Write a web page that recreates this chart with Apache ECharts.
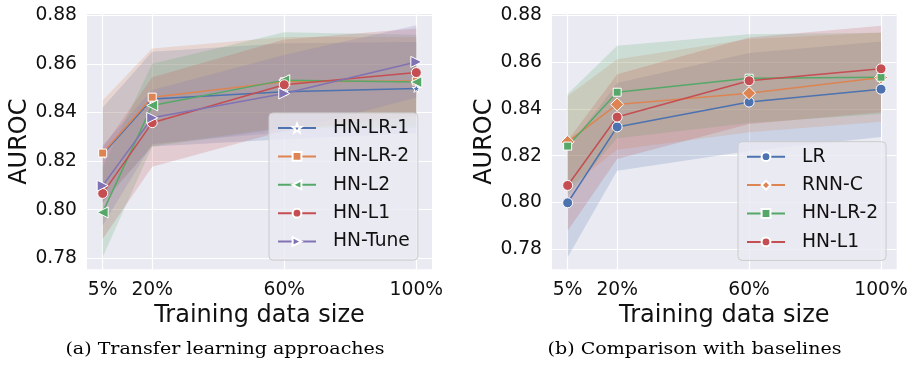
<!DOCTYPE html>
<html>
<head>
<meta charset="utf-8">
<script src="https://cdn.jsdelivr.net/npm/echarts@6/dist/echarts.min.js"></script>
<style>
html,body{margin:0;padding:0;background:#ffffff;}
#chart{width:916px;height:365px;}
</style>
</head>
<body>
<div id="chart"></div>
<script>
// ---------- data ----------
const trainingSizes = [5, 20, 60, 100];
const xTickLabels = ['5%', '20%', '60%', '100%'];
const yTickValues = [0.78, 0.80, 0.82, 0.84, 0.86, 0.88];

// (a) Transfer learning approaches
const aNames = ['HN-LR-1', 'HN-LR-2', 'HN-L2', 'HN-L1', 'HN-Tune'];
const aHNLR1Mean = [0.8228, 0.8455, 0.8485, 0.8499];
const aHNLR1Lo   = [0.8030, 0.8260, 0.8290, 0.8315];
const aHNLR1Hi   = [0.8420, 0.8650, 0.8685, 0.8690];
const aHNLR2Mean = [0.8233, 0.8463, 0.8526, 0.8529];
const aHNLR2Lo   = [0.8030, 0.8265, 0.8340, 0.8345];
const aHNLR2Hi   = [0.8450, 0.8663, 0.8710, 0.8710];
const aHNL2Mean  = [0.7989, 0.8429, 0.8533, 0.8525];
const aHNL2Lo    = [0.7805, 0.8260, 0.8335, 0.8335];
const aHNL2Hi    = [0.8175, 0.8600, 0.8730, 0.8720];
const aHNL1Mean  = [0.8067, 0.8358, 0.8514, 0.8564];
const aHNL1Lo    = [0.7880, 0.8177, 0.8325, 0.8385];
const aHNL1Hi    = [0.8255, 0.8545, 0.8700, 0.8745];
const aTuneMean  = [0.8099, 0.8378, 0.8478, 0.8608];
const aTuneLo    = [0.7935, 0.8270, 0.8320, 0.8462];
const aTuneHi    = [0.8265, 0.8492, 0.8636, 0.8759];

// (b) Comparison with baselines
const bNames = ['LR', 'RNN-C', 'HN-LR-2', 'HN-L1'];
const bLRMean   = [0.7999, 0.8323, 0.8429, 0.8484];
const bLRLo     = [0.7766, 0.8136, 0.8220, 0.8280];
const bLRHi     = [0.8230, 0.8510, 0.8638, 0.8688];
const bRNNMean  = [0.8259, 0.8419, 0.8467, 0.8534];
const bRNNLo    = [0.8060, 0.8225, 0.8300, 0.8345];
const bRNNHi    = [0.8455, 0.8612, 0.8698, 0.8726];
const bHNLR2Mean = [0.8241, 0.8471, 0.8531, 0.8535];
const bHNLR2Lo   = [0.8030, 0.8275, 0.8340, 0.8378];
const bHNLR2Hi   = [0.8463, 0.8669, 0.8719, 0.8725];
const bHNL1Mean = [0.8073, 0.8365, 0.8520, 0.8571];
const bHNL1Lo   = [0.7880, 0.8186, 0.8335, 0.8385];
const bHNL1Hi   = [0.8265, 0.8548, 0.8705, 0.8755];

// ---------- style ----------
const C = {blue:'#4C72B0', orange:'#DD8452', green:'#55A868', red:'#C44E52', purple:'#8172B3'};
const FONT = 'DejaVu Sans';
const TXT = '#111111';
const STAR = 'path://M0,-10L2.35,-3.24L9.51,-3.09L3.8,1.24L5.88,8.09L0,4L-5.88,8.09L-3.8,1.24L-9.51,-3.09L-2.35,-3.24Z';

function rgba(hex, a){
  const n = parseInt(hex.slice(1),16);
  return 'rgba(' + ((n>>16)&255) + ',' + ((n>>8)&255) + ',' + (n&255) + ',' + a + ')';
}

function band(gi, lo, hi, color){
  const data = trainingSizes.map((x,i)=>[x, lo[i], hi[i]]);
  return {
    type:'custom', xAxisIndex:gi, yAxisIndex:gi, data:data, z:1, silent:true,
    encode:{x:0, y:[1,2]},
    renderItem:function(params, api){
      if (params.dataIndex !== 0) return;
      const top = data.map(d=>api.coord([d[0], d[2]]));
      const bot = data.map(d=>api.coord([d[0], d[1]])).reverse();
      return {type:'polygon', shape:{points: top.concat(bot)}, style:{fill: rgba(color,0.2), stroke:null}};
    }
  };
}

function line(gi, name, mean, color, symbol, size, rotate){
  return {
    type:'line', name:name, xAxisIndex:gi, yAxisIndex:gi, z:3,
    data: trainingSizes.map((x,i)=>[x, mean[i]]),
    symbol:symbol, symbolSize:size, symbolRotate:rotate||0, showSymbol:true,
    lineStyle:{color:color, width:1.5},
    itemStyle:{color:color, borderColor:'#ffffff', borderWidth:1},
    emphasis:{disabled:true}, animation:false
  };
}

function gridLines(gi){
  return {
    type:'line', xAxisIndex:gi, yAxisIndex:gi, data:[[5,0.80]], showSymbol:false, symbol:'none',
    lineStyle:{width:0, opacity:0}, silent:true, z:0,
    markLine:{
      silent:true, symbol:'none', z:0, animation:false,
      label:{show:false},
      lineStyle:{color:'#ffffff', width:1.2, type:'solid'},
      emphasis:{disabled:true},
      data: trainingSizes.map(x=>({xAxis:x})).concat(yTickValues.map(y=>({yAxis:y})))
    }
  };
}

function xAxis(gi){
  return {
    type:'value', gridIndex:gi, min:0.25, max:104.75, interval:0.25,
    axisLine:{show:false}, axisTick:{show:false}, splitLine:{show:false},
    axisLabel:{
      margin:11, fontFamily:FONT, fontSize:18.7, color:TXT,
      showMinLabel:false, showMaxLabel:false,
      formatter:function(v){ const k = trainingSizes.findIndex(t=>Math.abs(t-v)<1e-6); return k>=0 ? xTickLabels[k] : ''; }
    },
    name:'Training data size', nameLocation:'middle', nameGap:28,
    nameTextStyle:{fontFamily:FONT, fontSize:24, color:TXT}
  };
}

function yAxis(gi, min){
  return {
    type:'value', gridIndex:gi, min:min, max:0.8805, interval:0.0005,
    axisLine:{show:false}, axisTick:{show:false}, splitLine:{show:false},
    axisLabel:{
      margin:10, fontFamily:FONT, fontSize:18.7, color:TXT,
      formatter:function(v){ const k = yTickValues.findIndex(t=>Math.abs(t-v)<1e-7); return k>=0 ? yTickValues[k].toFixed(2) : ''; }
    },
    name:'AUROC', nameLocation:'middle', nameGap:55,
    nameTextStyle:{fontFamily:FONT, fontSize:24, color:TXT}
  };
}

const legendBase = {
  orient:'vertical', itemWidth:38, itemHeight:11, itemGap:9.4,
  backgroundColor:'rgba(234,234,242,0.8)', borderColor:'#cccccc', borderWidth:1, borderRadius:4,
  textStyle:{fontFamily:FONT, fontSize:18.7, color:TXT, lineHeight:19, padding:[0,0,0,12]},
  selectedMode:false
};

const chart = echarts.init(document.getElementById('chart'), null, {renderer:'canvas'});
chart.setOption({
  animation:false,
  backgroundColor:'#ffffff',
  grid:[
    {left:87, top:14, width:345, height:255.3, backgroundColor:'#EAEAF2', show:true, borderWidth:0},
    {left:552, top:14, width:344.7, height:255.3, backgroundColor:'#EAEAF2', show:true, borderWidth:0}
  ],
  xAxis:[xAxis(0), xAxis(1)],
  yAxis:[yAxis(0, 0.7755), yAxis(1, 0.7715)],
  legend:[
    Object.assign({}, legendBase, {left:269, top:113, padding:[5.5,8,9,8], data:aNames}),
    Object.assign({}, legendBase, {left:738, top:141.7, padding:[5.5,8,9,8],
      data:bNames.map(n=>n+' (b)'), formatter:function(n){ return n.replace(' (b)',''); }})
  ],
  graphic:[
    {type:'text', x:225, y:350, scaleX:1.19, style:{text:'(a) Transfer learning approaches', font:'16px "DejaVu Serif"', fill:'#000000', textAlign:'center', textVerticalAlign:'middle'}},
    {type:'text', x:694.5, y:350, scaleX:1.19, style:{text:'(b) Comparison with baselines', font:'16px "DejaVu Serif"', fill:'#000000', textAlign:'center', textVerticalAlign:'middle'}}
  ],
  series:[
    gridLines(0), gridLines(1),
    band(0, aHNLR1Lo, aHNLR1Hi, C.blue),
    band(0, aHNLR2Lo, aHNLR2Hi, C.orange),
    band(0, aHNL2Lo, aHNL2Hi, C.green),
    band(0, aHNL1Lo, aHNL1Hi, C.red),
    band(0, aTuneLo, aTuneHi, C.purple),
    line(0, aNames[0], aHNLR1Mean, C.blue, STAR, 8),
    line(0, aNames[1], aHNLR2Mean, C.orange, 'rect', 8),
    line(0, aNames[2], aHNL2Mean, C.green, 'triangle', 11, 90),
    line(0, aNames[3], aHNL1Mean, C.red, 'circle', 10),
    line(0, aNames[4], aTuneMean, C.purple, 'triangle', 11, -90),
    band(1, bLRLo, bLRHi, C.blue),
    band(1, bRNNLo, bRNNHi, C.orange),
    band(1, bHNLR2Lo, bHNLR2Hi, C.green),
    band(1, bHNL1Lo, bHNL1Hi, C.red),
    line(1, bNames[0]+' (b)', bLRMean, C.blue, 'circle', 10),
    line(1, bNames[1]+' (b)', bRNNMean, C.orange, 'diamond', 13),
    line(1, bNames[2]+' (b)', bHNLR2Mean, C.green, 'rect', 8),
    line(1, bNames[3]+' (b)', bHNL1Mean, C.red, 'circle', 10)
  ]
});
</script>
</body>
</html>
